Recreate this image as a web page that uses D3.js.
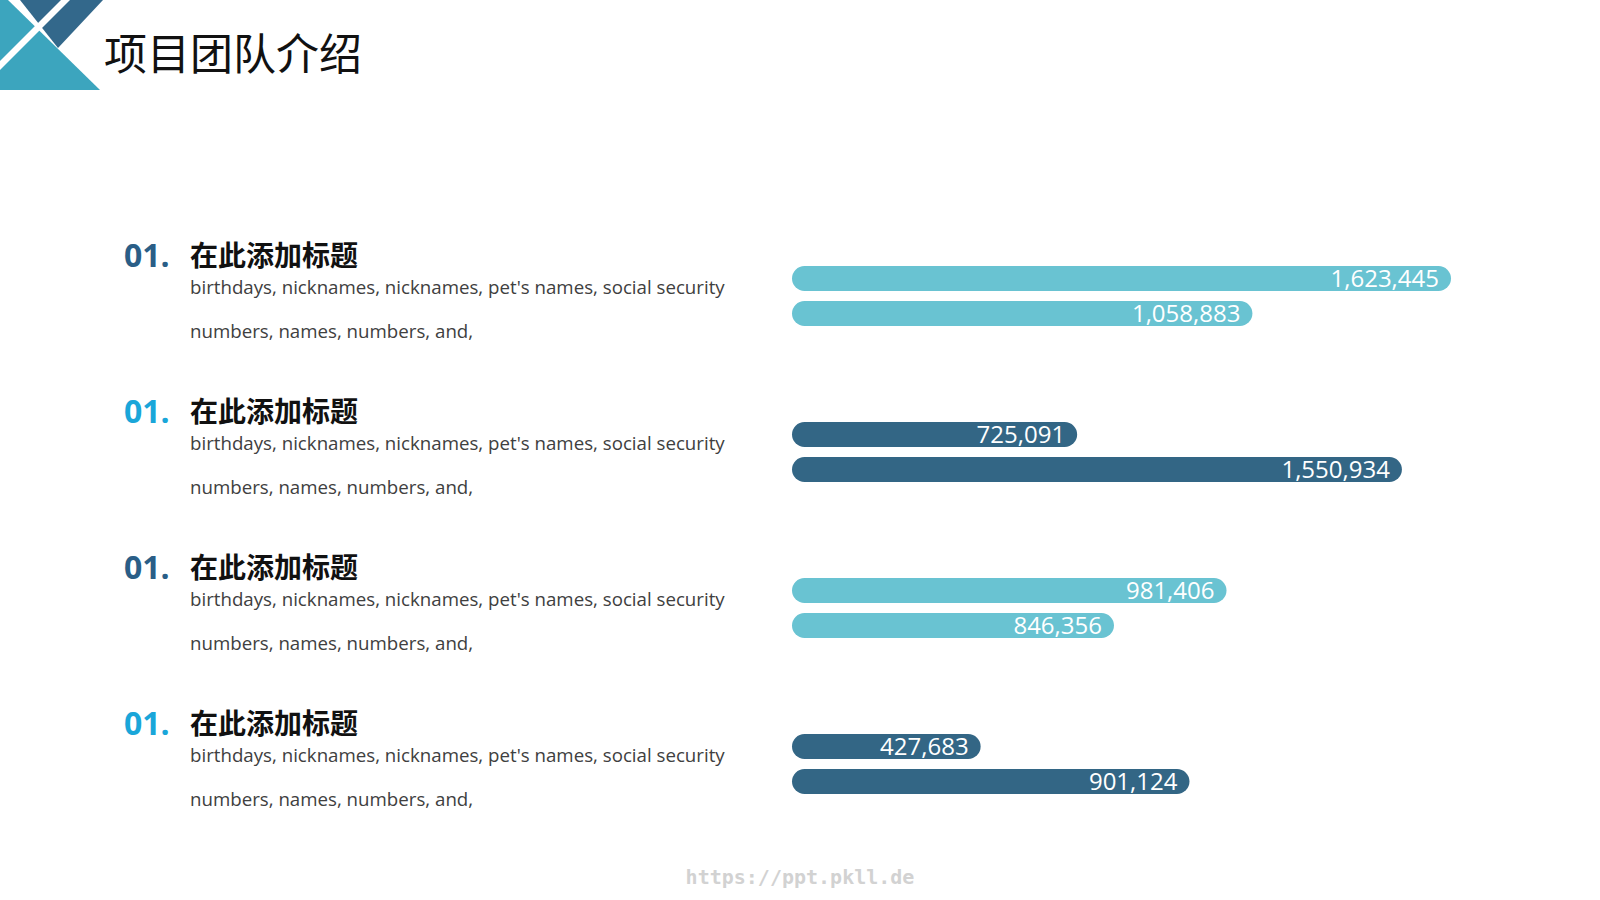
<!DOCTYPE html>
<html><head><meta charset="utf-8">
<script src="https://cdn.jsdelivr.net/npm/d3@7"></script>
<style>html,body{margin:0;padding:0;background:#fff}svg{display:block}</style>
</head><body>
<script>
// ---- data ----
const pageTitle = "项目团队介绍";
const rowNumbers = ["01.", "01.", "01.", "01."];
const rowTitles = ["在此添加标题", "在此添加标题", "在此添加标题", "在此添加标题"];
const descLine1 = ["birthdays, nicknames, nicknames, pet's names, social security",
                   "birthdays, nicknames, nicknames, pet's names, social security",
                   "birthdays, nicknames, nicknames, pet's names, social security",
                   "birthdays, nicknames, nicknames, pet's names, social security"];
const descLine2 = ["numbers, names, numbers, and,", "numbers, names, numbers, and,",
                   "numbers, names, numbers, and,", "numbers, names, numbers, and,"];
const seriesA = [1623445, 725091, 981406, 427683];
const seriesB = [1058883, 1550934, 846356, 901124];
// each row is its own small chart with its own value axis
const axisMin = [-250000, 0, 460000, 0];
const axisMax = [1740000, 1780000, 1300000, 1587000];
const watermark = "https://ppt.pkll.de";

// ---- layout / style ----
const W = 1600, H = 900;
const colLight = "#69c3d2", colDark = "#336685";
const numDark = "#2a5e87", numBright = "#1aa6d9";
const svg = d3.select("body").append("svg").attr("width", W).attr("height", H);

// corner decoration
const deco = svg.append("g");
deco.append("polygon").attr("points", "0,0 8,0 100,90 0,90").attr("fill", "#3ca5be");
deco.append("polygon").attr("points", "20,0 103,0 58,48").attr("fill", "#33688b");
deco.append("polygon").attr("points", "0,61 61,0 70,0 0,70").attr("fill", "#ffffff");

svg.append("text").attr("x", 104).attr("y", 51)
  .attr("dominant-baseline", "central")
  .style("font-family", "'Noto Sans CJK SC'").style("font-size", "43px")
  .style("fill", "#111").text(pageTitle);

const rows = d3.range(rowTitles.length);
const rowY = d3.scalePoint().domain(rows).range([254, 722]);
const inner = d3.scaleBand().domain(["A", "B"]).range([12, 72]).paddingInner(10 / 35).paddingOuter(0);
const barX0 = 792, barX1 = 1492;

rows.forEach(i => {
  const y = rowY(i);
  const g = svg.append("g");
  g.append("text").attr("x", 124).attr("y", y).attr("dominant-baseline", "central")
    .style("font-family", "'Open Sans', sans-serif").style("font-weight", 700).style("font-size", "32px")
    .style("fill", i % 2 === 0 ? numDark : numBright).text(rowNumbers[i]);
  g.append("text").attr("x", 190).attr("y", y).attr("dominant-baseline", "central")
    .style("font-family", "'Noto Sans CJK SC'").style("font-weight", 700).style("font-size", "28px")
    .style("fill", "#111").text(rowTitles[i]);
  g.append("text").attr("x", 190).attr("y", y + 32).attr("dominant-baseline", "central")
    .style("font-family", "'Open Sans', sans-serif").style("font-size", "18.7px")
    .style("fill", "#404040").text(descLine1[i]);
  g.append("text").attr("x", 190).attr("y", y + 76).attr("dominant-baseline", "central")
    .style("font-family", "'Open Sans', sans-serif").style("font-size", "18.7px")
    .style("fill", "#404040").text(descLine2[i]);

  const x = d3.scaleLinear().domain([axisMin[i], axisMax[i]]).range([barX0, barX1]);
  const vals = [{k: "A", v: seriesA[i]}, {k: "B", v: seriesB[i]}];
  const col = i % 2 === 0 ? colLight : colDark;
  const bh = inner.bandwidth();
  g.selectAll("rect.bar").data(vals).join("rect").attr("class", "bar")
    .attr("x", barX0).attr("y", d => y + inner(d.k))
    .attr("width", d => x(d.v) - barX0).attr("height", bh)
    .attr("rx", bh / 2).attr("ry", bh / 2).attr("fill", col);
  g.selectAll("text.lbl").data(vals).join("text").attr("class", "lbl")
    .attr("x", d => x(d.v) - 12).attr("y", d => y + inner(d.k) + bh / 2 - 1)
    .attr("text-anchor", "end").attr("dominant-baseline", "central")
    .style("font-family", "'Open Sans', sans-serif").style("font-size", "24px")
    .style("fill", "#fff").text(d => d3.format(",")(d.v));
});

svg.append("text").attr("x", 800).attr("y", 877).attr("text-anchor", "middle")
  .attr("dominant-baseline", "central")
  .style("font-family", "'DejaVu Sans Mono', monospace").style("font-weight", 700).style("font-size", "20px")
  .style("fill", "#d2d2d2").text(watermark);
</script>
</body></html>
